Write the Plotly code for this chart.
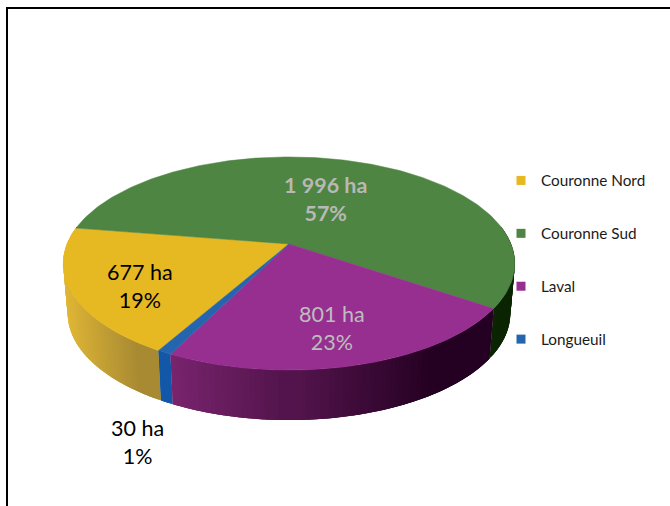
import math
import plotly.graph_objects as go

# Data
categories = ["Couronne Nord", "Couronne Sud", "Laval", "Longueuil"]
hectares = [677, 1996, 801, 30]
top_colors = ["#E6B822", "#4E8542", "#972F91", "#2565AE"]
wall_left = ["#D8B035", "#0B2503", "#7B2570", "#1257A8"]
wall_right = ["#A88A33", "#0B2503", "#240022", "#1257A8"]
label_colors = ["#000000", "#B8B8B8", "#BDBDBD", "#000000"]
label_bold = [False, True, False, False]
label_pos = [(140, 286), (325, 199), (332, 328), (137, 442)]

# 3D pie projection settings (page pixels)
APEX = (289, 244)
RADIUS = 222
PERSP_A = 103
PERSP_K = 0.183
DEPTH = 50
SHRINK = 0.98
START = 209.6
STEP = 1.0
OVERLAP = 1.5
FORWARD = 0.4


def project(phi, floor=False):
    a = math.radians(phi)
    u, v = math.sin(a), -math.cos(a)
    d = 1 - PERSP_K * v
    x, y = RADIUS * u / d, PERSP_A * v / d
    if floor:
        return APEX[0] + SHRINK * x, APEX[1] + y + DEPTH
    return APEX[0] + x, APEX[1] + y


def lerp_hex(c0, c1, t):
    p = [int(c0[i:i + 2], 16) for i in (1, 3, 5)]
    q = [int(c1[i:i + 2], 16) for i in (1, 3, 5)]
    return "#%02x%02x%02x" % tuple(round(a + (b - a) * t) for a, b in zip(p, q))


def arc(a0, a1):
    n = max(2, int(abs(a1 - a0) / STEP) + 1)
    return [a0 + (a1 - a0) * i / n for i in range(n + 1)]


total = sum(hectares)
spans = []
angle = START
for h in hectares:
    sweep = 360 * h / total
    spans.append((angle, angle + sweep))
    angle += sweep

fig = go.Figure()

# side walls, back to front; each strip overlaps its neighbours to hide seams
strips = []
for i, (a0, a1) in enumerate(spans):
    for shift in (0, -360, 360):
        lo, hi = max(a0 + shift, 80), min(a1 + shift, 280)
        if lo >= hi:
            continue
        angs = arc(lo, hi)
        x_lo, x_hi = project(hi)[0], project(lo)[0]
        for b0, b1 in zip(angs[:-1], angs[1:]):
            mid = (b0 + b1) / 2
            t = (project(mid)[0] - x_lo) / max(1, x_hi - x_lo)
            col = lerp_hex(wall_left[i], wall_right[i], min(1, t / 0.8))
            if mid < 180:
                b0, b1 = max(lo, b0 - OVERLAP), min(hi, b1 + FORWARD)
            else:
                b0, b1 = max(lo, b0 - FORWARD), min(hi, b1 + OVERLAP)
            strips.append((-math.cos(math.radians(mid)), b0, b1, col))
strips.sort(key=lambda s: s[0])
for _, b0, b1, col in strips:
    pts = [project(a) for a in arc(b0, b1)] + [project(a, True) for a in arc(b1, b0)]
    fig.add_trace(go.Scatter(
        x=[p[0] for p in pts], y=[p[1] for p in pts], mode="lines",
        fill="toself", fillcolor=col, line=dict(width=0),
        hoverinfo="skip", showlegend=False))

# top faces
for i, (a0, a1) in enumerate(spans):
    pts = [project(a) for a in arc(a0, a1)]
    xs = [APEX[0]] + [p[0] for p in pts] + [APEX[0]]
    ys = [APEX[1]] + [p[1] for p in pts] + [APEX[1]]
    fig.add_trace(go.Scatter(
        x=xs, y=ys, mode="lines", fill="toself", fillcolor=top_colors[i],
        line=dict(color=top_colors[i], width=0.5),
        name=categories[i], hoverinfo="name", showlegend=False))

# legend entries
for i, c in enumerate(categories):
    fig.add_trace(go.Scatter(
        x=[None], y=[None], mode="markers", name=c, legendgroup=c,
        marker=dict(symbol="square", size=9, color=top_colors[i])))

annotations = []
for i, h in enumerate(hectares):
    txt = f"{h:,}".replace(",", " ") + " ha"
    pct = f"{round(100 * h / total)}%"
    if label_bold[i]:
        txt, pct = f"<b>{txt}</b>", f"<b>{pct}</b>"
    annotations.append(dict(
        x=label_pos[i][0], y=label_pos[i][1], xref="x", yref="y",
        text=f"{txt}<br>{pct}", showarrow=False, align="center",
        font=dict(family="Lato", size=21.5, color=label_colors[i])))

fig.update_layout(
    width=670, height=506, margin=dict(l=0, r=0, t=0, b=0),
    paper_bgcolor="white", plot_bgcolor="white",
    xaxis=dict(range=[0, 670], visible=False, fixedrange=True),
    yaxis=dict(range=[506, 0], visible=False, fixedrange=True),
    annotations=annotations,
    legend=dict(x=501 / 670, y=1 - 164 / 506, xanchor="left", yanchor="top",
                tracegroupgap=30, bgcolor="rgba(0,0,0,0)", itemclick=False,
                font=dict(family="Lato", size=15.3, color="#1a1a1a")),
    shapes=[dict(type="line", xref="x", yref="y", x0=7, x1=670, y0=8, y1=8,
                 line=dict(color="black", width=2)),
            dict(type="line", xref="x", yref="y", x0=7, x1=7, y0=7, y1=506,
                 line=dict(color="black", width=2))],
)

fig.write_html("out.html", config={"displayModeBar": False},
               post_script="document.body.style.margin='0';")
